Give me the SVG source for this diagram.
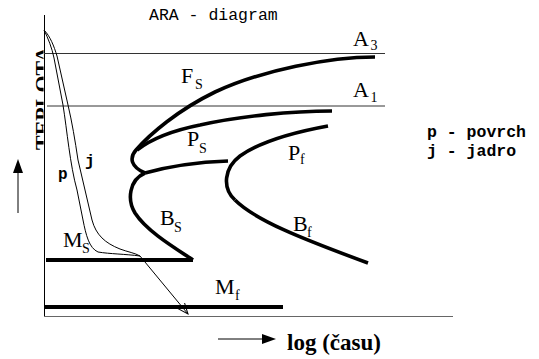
<svg xmlns="http://www.w3.org/2000/svg" width="539" height="359" viewBox="0 0 539 359">
<style>
.lab{font-family:"Liberation Serif","Times New Roman",serif;font-size:22px;fill:#000}
.sub{font-family:"Liberation Serif","Times New Roman",serif;font-size:14px;fill:#000}
.mono{font-family:"Liberation Mono","Courier New",monospace;fill:#000}
.thick{fill:none;stroke:#000;stroke-width:3.6}
.thin{fill:none;stroke:#000;stroke-width:1}
.iso{fill:none;stroke:#333;stroke-width:1}
</style>
<defs>
<clipPath id="clipT" clipPathUnits="userSpaceOnUse"><rect x="0" y="0" width="43.5" height="359"/></clipPath>
<marker id="vhead" markerWidth="12" markerHeight="12" refX="11" refY="6" orient="auto" markerUnits="userSpaceOnUse">
<path d="M0,1.5 L11,6 L0,10.5" fill="none" stroke="#000" stroke-width="1"/>
</marker>
</defs>
<rect width="539" height="359" fill="#fff"/>
<g id="axes">
<line x1="44.5" y1="15" x2="44.5" y2="316.5" stroke="#000" stroke-width="1"/>
<line x1="44" y1="316.5" x2="453" y2="316.5" stroke="#666" stroke-width="1"/>
<text class="mono" x="149" y="20" font-size="16.5">ARA - diagram</text>
<g clip-path="url(#clipT)">
<text x="0" y="0" transform="translate(50,150) rotate(-90)" font-family="Liberation Serif, Times New Roman, serif" font-weight="bold" font-size="22">TEPLOTA</text>
</g>
</g>
<g id="axis-arrows">
<line x1="18" y1="213" x2="18" y2="170" stroke="#000" stroke-width="1"/>
<polygon points="18,159 13,173 23,173" fill="#000"/>
<line x1="218" y1="339" x2="264" y2="339" stroke="#000" stroke-width="1"/>
<polygon points="276,339 262,334 262,344" fill="#000"/>
<text x="287" y="350" font-family="Liberation Serif, Times New Roman, serif" font-weight="bold" font-size="23">log (času)</text>
</g>
<g id="A3">
<line class="iso" x1="44" y1="53.5" x2="385" y2="53.5"/>
<text class="lab" x="353" y="46">A</text><text class="sub" x="370.5" y="50">3</text>
</g>
<g id="A1">
<line class="iso" x1="47" y1="106" x2="385" y2="106"/>
<text class="lab" x="353" y="97">A</text><text class="sub" x="370.5" y="102">1</text>
</g>
<g id="Fs">
<path class="thick" d="M375,57 C330,57 262,70 215,92 C178,110 150,134 136,150 C129,158 131,167 145,173"/>
<text class="lab" x="181" y="83">F</text><text class="sub" x="195" y="89">S</text>
</g>
<g id="Ps">
<path class="thick" d="M332,111 C292,111 240,116 200,125 C170,131 150,140 137,150"/>
<path class="thick" d="M228,161 C200,162 170,166 145,173"/>
<text class="lab" x="187" y="146">P</text><text class="sub" x="199" y="153">S</text>
</g>
<g id="Bs">
<path class="thick" d="M145,173 C129,180 127,200 135,213 C146,230 170,245 193,260"/>
<text class="lab" x="160" y="225">B</text><text class="sub" x="174" y="232">S</text>
</g>
<g id="Pf">
<path class="thick" d="M328,126 C295,132 260,142 240,156 C224,168 222,188 235,200"/>
<text class="lab" x="288" y="160">P</text><text class="sub" x="300" y="164">f</text>
</g>
<g id="Bf">
<path class="thick" d="M235,200 C255,220 300,238 368,263"/>
<text class="lab" x="293" y="231">B</text><text class="sub" x="307" y="237">f</text>
</g>
<g id="Ms">
<line x1="46" y1="260" x2="193" y2="260" stroke="#000" stroke-width="4"/>
<text class="lab" x="63" y="247">M</text><text class="sub" x="82" y="253">S</text>
</g>
<g id="Mf">
<line x1="44" y1="307" x2="283" y2="307" stroke="#000" stroke-width="4"/>
<text class="lab" x="215" y="294">M</text><text class="sub" x="235" y="300">f</text>
</g>
<g id="cooling-p">
<path class="thin" d="M44,30 C48,38 52,48 54,58 L63,105 C67,130 70,165 77,190 L83,220 C86,235 89,248 98,252 C110,254 125,254 140,256"/>
<text class="mono" x="58" y="179" font-size="16" font-weight="bold">p</text>
</g>
<g id="cooling-j">
<path class="thin" d="M44,30 C50,36 54,46 57,56 L68,105 C72,122 75,140 78,160 L85,190 L92,220 C96,235 105,243 120,249 C128,252 135,253 140,256"/>
<text class="mono" x="85" y="166" font-size="16" font-weight="bold">j</text>
</g>
<g id="connectors">
<line x1="140" y1="256" x2="188" y2="314" stroke="#000" stroke-width="1" marker-end="url(#vhead)"/>
</g>
<g id="legend">
<text class="mono" x="427" y="137" font-size="16.5" font-weight="bold">p - povrch</text>
<text class="mono" x="427" y="156" font-size="16.5" font-weight="bold">j - jadro</text>
</g>
</svg>
